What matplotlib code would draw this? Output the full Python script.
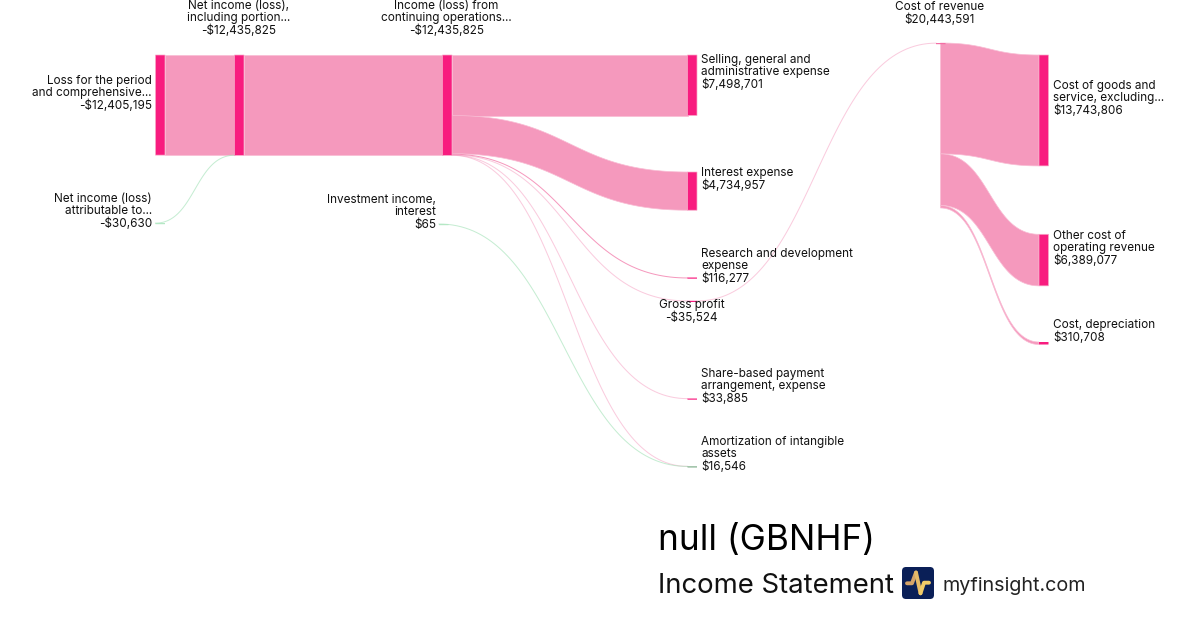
import matplotlib
matplotlib.use('Agg')
import matplotlib.pyplot as plt
import numpy as np
from matplotlib.patches import Rectangle, FancyBboxPatch, Polygon

plt.rcParams['font.family'] = ['Inter', 'DejaVu Sans']

# data
node_names = ['loss', 'netinc', 'attrib', 'contops', 'invest', 'sga', 'interest', 'rnd', 'gross',
              'share', 'amort', 'revcost', 'goods', 'other', 'deprec']
node_values = [12405195, 12435825, 30630, 12435825, 65, 7498701, 4734957, 116277, 35524,
               33885, 16546, 35524, 13743806, 6389077, 310708]
link_src = ['loss', 'attrib', 'netinc', 'contops', 'contops', 'contops', 'contops', 'contops', 'contops',
            'invest', 'gross', 'revcost', 'revcost', 'revcost']
link_tgt = ['netinc', 'netinc', 'contops', 'sga', 'interest', 'rnd', 'gross', 'share', 'amort',
            'amort', 'revcost', 'goods', 'other', 'deprec']
link_val = [12405195, 30630, 12435825, 7498701, 4734957, 116277, 35524, 33885, 16481,
            65, 35524, 13743806, 6389077, 310708]
green_links = ['attrib', 'invest']

# layout, px
px_per_dollar = 8.07e-6
node_w = 9.5
node_x = dict(loss=155.5, netinc=234.5, attrib=155.5, contops=442.5, invest=439, sga=687.5, interest=687.5,
              rnd=687.5, gross=687.5, share=687.5, amort=687.5, revcost=936, goods=1039, other=1039, deprec=1039)
node_y = dict(loss=55, netinc=55, attrib=223, contops=55, invest=224, sga=55, interest=172, rnd=277.5,
              gross=300.8, share=398.5, amort=466.3, revcost=43, goods=55, other=234.3, deprec=342)
node_col = dict(attrib='#b5e8c5', invest='#b5e8c5', amort='#7fae8a', revcost='#f46fa5')
out_x = dict(revcost=940.5)

labels = [
    (['Loss for the period', 'and comprehensive...', '-$12,405,195'], 152, 81, 'right'),
    (['Net income (loss),', 'including portion...', '-$12,435,825'], 238.5, 6, 'center'),
    (['Income (loss) from', 'continuing operations...', '-$12,435,825'], 446.5, 6, 'center'),
    (['Net income (loss)', 'attributable to...', '-$30,630'], 152, 199, 'right'),
    (['Investment income,', 'interest', '$65'], 436, 200, 'right'),
    (['Selling, general and', 'administrative expense', '$7,498,701'], 701, 60, 'left'),
    (['Interest expense', '$4,734,957'], 701, 173, 'left'),
    (['Research and development', 'expense', '$116,277'], 701, 254, 'left'),
    (['Gross profit', '-$35,524'], 691.5, 305, 'center'),
    (['Share-based payment', 'arrangement, expense', '$33,885'], 701, 374, 'left'),
    (['Amortization of intangible', 'assets', '$16,546'], 701, 442, 'left'),
    (['Cost of revenue', '$20,443,591'], 939.5, 7, 'center'),
    (['Cost of goods and', 'service, excluding...', '$13,743,806'], 1053, 86, 'left'),
    (['Other cost of', 'operating revenue', '$6,389,077'], 1053, 236, 'left'),
    (['Cost, depreciation', '$310,708'], 1053, 325, 'left'),
]


def curve(x0, x1, y0, y1):
    xm = (x0 + x1) / 2
    t = np.linspace(0, 1, 80)
    x = (1-t)**3*x0 + 3*(1-t)**2*t*xm + 3*(1-t)*t**2*xm + t**3*x1
    y = (1-t)**3*y0 + 3*(1-t)**2*t*y0 + 3*(1-t)*t**2*y1 + t**3*y1
    return x, y


fig = plt.figure(figsize=(12, 6.3), dpi=100)
ax = fig.add_axes([0, 0, 1, 1])
ax.set_xlim(0, 1200)
ax.set_ylim(630, 0)
ax.axis('off')

# links, stacked down each node in order
src_off = dict.fromkeys(node_names, 0.0)
tgt_off = dict.fromkeys(node_names, 0.0)
for s, t, v in zip(link_src, link_tgt, link_val):
    th = v * px_per_dollar
    y0 = node_y[s] + src_off[s]
    y1 = node_y[t] + tgt_off[t]
    src_off[s] += th
    tgt_off[t] += th
    x0 = out_x.get(s, node_x[s] + node_w)
    if s in green_links:
        x0 = node_x[s]
    x1 = node_x[t]
    if th >= 1.5:
        xt, yt = curve(x0, x1, y0, y1)
        pts = np.r_[np.c_[xt, yt], np.c_[xt, yt + th][::-1]]
        ax.add_patch(Polygon(pts, closed=True, fc='#f599bd', ec='#f9bcd4', lw=0.5, zorder=2))
    else:
        xt, yt = curve(x0, x1, y0 + th / 2, y1 + th / 2)
        if s in green_links:
            ax.plot(xt, yt, color='#a6e3ba', lw=0.72, alpha=0.65, zorder=2)
        else:
            ax.plot(xt, yt, color='#f277a8', lw=0.72, alpha=min(max(th * 0.8, 0.38), 0.75), zorder=2)

# nodes
for name, v in zip(node_names, node_values):
    h = max(v * px_per_dollar, 1.2)
    thick = h > 5
    ax.add_patch(Rectangle((node_x[name], node_y[name]), node_w, h, fc=node_col.get(name, '#f81c7f'),
                           ec='#f9a9c9' if thick else 'none', lw=0.5, snap=False, zorder=3))

for lines, x, y, ha in labels:
    for i, line in enumerate(lines):
        ax.text(x, y + i * 12.3, line, ha=ha, va='center', fontsize=8.45, color='#111111', zorder=4)

# footer
ax.text(657.5, 550, 'null (GBNHF)', fontsize=25.3, color='black', va='baseline')
ax.text(657.5, 593, 'Income Statement', fontsize=19.8, color='#111111', va='baseline')
ax.text(942, 591, 'myfinsight.com', fontsize=14.2, color='#222222', va='baseline')

# logo
ax.add_patch(FancyBboxPatch((904, 569), 28, 28, boxstyle='round,pad=2,rounding_size=4', fc='#0a1f57', ec='none'))
ax.plot([907, 912, 916], [583.3, 583.3, 572.5], color='#d5a468', lw=2.8, solid_capstyle='round', zorder=5)
ax.plot([916, 920.5], [572.5, 593.3], color='#e6bb68', lw=2.8, solid_capstyle='round', zorder=5)
ax.plot([920.5, 924, 929], [593.3, 582.7, 582.7], color='#f2cc68', lw=2.8, solid_capstyle='round', solid_joinstyle='round', zorder=5)

fig.savefig('out.png', dpi=100)
